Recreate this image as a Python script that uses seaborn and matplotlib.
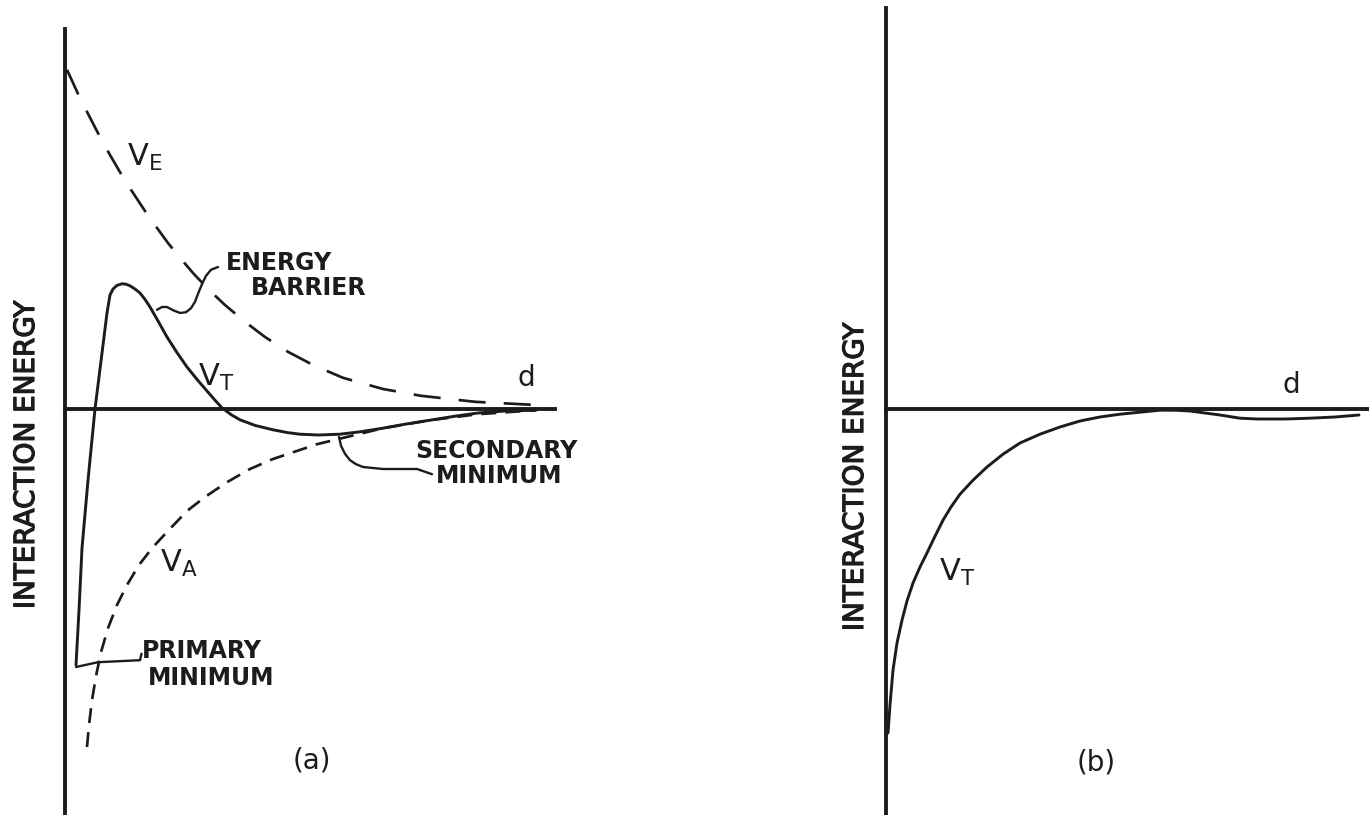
import matplotlib
matplotlib.use("Agg")
import matplotlib.pyplot as plt
import matplotlib.patheffects as pe
import seaborn as sns

# ---------------------------------------------------------------
# Schematic DLVO interaction-energy curves (arbitrary units)
# d = separation distance, E = interaction energy
# ---------------------------------------------------------------

# (a) electrostatic repulsion V_E
ve_d = [0.04, 0.26, 0.44, 0.70, 0.90, 1.12, 1.32, 1.60, 1.78, 2.06, 2.30, 2.56,
        2.86, 3.20, 3.60, 4.00, 4.46, 4.96, 5.56, 6.36, 7.12, 8.20, 9.42]
ve_e = [8.48, 7.88, 7.43, 6.80, 6.35, 5.88, 5.48, 4.95, 4.63, 4.15, 3.78, 3.40,
        3.00, 2.60, 2.18, 1.80, 1.43, 1.10, 0.78, 0.50, 0.33, 0.18, 0.10]

# (a) van der Waals attraction V_A
va_d = [0.44, 0.48, 0.54, 0.62, 0.72, 0.86, 1.04, 1.24, 1.48, 1.74, 2.02, 2.44,
        2.80, 3.24, 3.70, 4.16, 5.04, 5.70, 6.36, 7.30, 8.26, 9.42]
va_e = [-8.45, -7.90, -7.28, -6.68, -6.08, -5.48, -4.90, -4.40, -3.90, -3.48,
        -3.10, -2.55, -2.20, -1.83, -1.50, -1.25, -0.88, -0.68, -0.48, -0.28,
        -0.13, -0.03]

# (a) total energy V_T
vt_a_d = [0.22, 0.28, 0.34, 0.46, 0.60, 0.74, 0.84, 0.90, 0.96, 1.04, 1.14, 1.22,
          1.30, 1.40, 1.50, 1.60, 1.70, 1.87, 2.04, 2.24, 2.44, 2.64, 2.84, 3.00,
          3.14, 3.32, 3.50, 3.80, 4.16, 4.45, 4.70, 5.06, 5.50, 5.90, 6.36, 6.80,
          7.30, 7.80, 8.26, 8.80, 9.42]
vt_a_e = [-6.40, -5.03, -3.48, -1.78, 0.00, 1.40, 2.40, 2.85, 3.00, 3.09, 3.13,
          3.12, 3.08, 3.00, 2.90, 2.74, 2.55, 2.18, 1.80, 1.41, 1.05, 0.74, 0.45,
          0.22, 0.03, -0.14, -0.27, -0.41, -0.52, -0.59, -0.63, -0.65, -0.63,
          -0.57, -0.48, -0.38, -0.28, -0.18, -0.10, -0.05, -0.03]

# (b) total energy V_T (no barrier)
vt_b_d = [0.04, 0.08, 0.14, 0.22, 0.32, 0.42, 0.54, 0.68, 0.82, 0.98, 1.14, 1.30,
          1.48, 1.74, 2.02, 2.34, 2.68, 3.08, 3.48, 3.88, 4.28, 4.68, 5.08, 5.48,
          5.78, 6.08, 6.38, 6.68, 7.08, 7.44, 7.98, 8.48, 8.98, 9.46]
vt_b_e = [-8.10, -7.40, -6.53, -5.85, -5.28, -4.80, -4.35, -3.95, -3.60, -3.18,
          -2.78, -2.45, -2.13, -1.78, -1.45, -1.13, -0.85, -0.63, -0.45, -0.30,
          -0.20, -0.13, -0.08, -0.03, -0.03, -0.05, -0.10, -0.15, -0.23, -0.25,
          -0.25, -0.23, -0.20, -0.15]

# leader lines for the callouts in panel (a)
barrier_leader_d = [1.84, 1.94, 2.04, 2.16, 2.30, 2.42, 2.52, 2.60, 2.66, 2.74, 2.82, 2.92, 3.06]
barrier_leader_e = [2.48, 2.55, 2.55, 2.47, 2.40, 2.42, 2.52, 2.68, 2.88, 3.12, 3.33, 3.48, 3.55]
primary_leader_d = [0.22, 0.66, 1.50, 1.53]
primary_leader_e = [-6.45, -6.33, -6.28, -6.12]
secondary_leader_d = [5.48, 5.52, 5.60, 5.70, 5.82, 5.96, 6.36, 7.04, 7.34]
secondary_leader_e = [-0.70, -0.92, -1.12, -1.28, -1.38, -1.45, -1.50, -1.50, -1.63]

Y_LABEL = "INTERACTION ENERGY"

# ---------------------------------------------------------------
sns.set_theme(style="white")
plt.rcParams["font.family"] = ["DejaVu Sans"]
plt.rcParams["mathtext.fontset"] = "dejavusans"

INK = "#1c1c1c"
W, H = 1369, 815
E_LO, E_HI = -10.15, 10.225

fig = plt.figure(figsize=(W / 100, H / 100), dpi=100)
fig.patch.set_facecolor("white")
ax_a = fig.add_axes([65 / W, 0, 495 / W, 1])
ax_b = fig.add_axes([886 / W, 0, 483 / W, 1])


def frame(ax, xmax, d_end, e_top):
    ax.set_xlim(0, xmax)
    ax.set_ylim(E_LO, E_HI)
    ax.patch.set_alpha(0)
    for side in ("top", "right"):
        ax.spines[side].set_visible(False)
    for side in ("left", "bottom"):
        ax.spines[side].set_position(("data", 0))
        ax.spines[side].set_color(INK)
        ax.spines[side].set_linewidth(2.8)
    ax.spines["left"].set_bounds(E_LO, e_top)
    ax.spines["bottom"].set_bounds(0, d_end)
    ax.set_xticks([])
    ax.set_yticks([])
    ax.set_xlabel("")
    ax.set_ylabel("")


def curve(ax, d, e, lw=2.1, ls="-"):
    sns.lineplot(x=d, y=e, ax=ax, color=INK, linewidth=lw, linestyle=ls,
                 sort=False, estimator=None, legend=False,
                 solid_capstyle="round", solid_joinstyle="round",
                 dash_capstyle="butt")


def label(ax, d, e, s, size=17, weight="bold", ha="left", va="center", **kw):
    ax.text(d, e, s, fontsize=size, fontweight=weight, color=INK,
            ha=ha, va=va, clip_on=False, **kw)


# ---------------- panel (a) ----------------
curve(ax_a, ve_d, ve_e, lw=1.95, ls=(0, (10, 6.7)))
curve(ax_a, va_d, va_e, lw=1.95, ls=(0, (5.5, 3.4)))
curve(ax_a, vt_a_d, vt_a_e, lw=2.1)
curve(ax_a, barrier_leader_d, barrier_leader_e, lw=1.7)
curve(ax_a, primary_leader_d, primary_leader_e, lw=1.7)
curve(ax_a, secondary_leader_d, secondary_leader_e, lw=1.7)
frame(ax_a, 9.9, 9.8, 9.5)

label(ax_a, 1.60, 6.28, r"$\mathregular{V_E}$", size=22, weight="normal", ha="center")
label(ax_a, 3.02, 0.80, r"$\mathregular{V_T}$", size=22, weight="normal", ha="center")
label(ax_a, 2.28, -3.85, r"$\mathregular{V_A}$", size=22, weight="normal", ha="center")
label(ax_a, 3.22, 3.65, "ENERGY")
label(ax_a, 3.72, 3.03, "BARRIER")
label(ax_a, 1.54, -6.05, "PRIMARY")
label(ax_a, 1.66, -6.72, "MINIMUM")
label(ax_a, 7.00, -1.05, "SECONDARY")
label(ax_a, 7.42, -1.68, "MINIMUM")
label(ax_a, 9.22, 0.78, "d", size=20, weight="normal", ha="center")
label(ax_a, 4.94, -8.78, "(a)", size=20, weight="normal", ha="center")
label(ax_a, -0.78, -1.15, Y_LABEL, size=20, weight="normal", ha="center",
      rotation=90, path_effects=[pe.withStroke(linewidth=0.9, foreground=INK)])

# ---------------- panel (b) ----------------
curve(ax_b, vt_b_d, vt_b_e, lw=2.1)
frame(ax_b, 9.66, 9.66, 10.03)

label(ax_b, 1.42, -4.08, r"$\mathregular{V_T}$", size=22, weight="normal", ha="center")
label(ax_b, 8.10, 0.60, "d", size=20, weight="normal", ha="center")
label(ax_b, 4.20, -8.83, "(b)", size=20, weight="normal", ha="center")
label(ax_b, -0.62, -1.70, Y_LABEL, size=20, weight="normal", ha="center",
      rotation=90, path_effects=[pe.withStroke(linewidth=0.9, foreground=INK)])

fig.savefig("out.png", dpi=100, facecolor="white")
